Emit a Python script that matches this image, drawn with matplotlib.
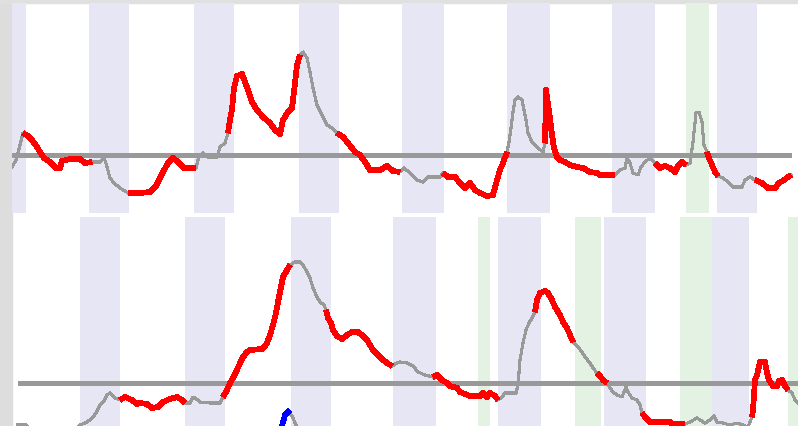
import numpy as np
import matplotlib
matplotlib.use("Agg")
import matplotlib.pyplot as plt
from matplotlib.patches import Rectangle

# ---- top panel: index deviation from baseline ----
top_t = [12, 16, 20, 23, 28, 32, 37, 40, 44, 50, 56, 60, 62, 70, 80, 85, 92, 100, 104, 107,
         110, 114, 120, 128, 140, 150, 156, 163, 168, 173, 178, 184, 196, 198, 200, 203, 208,
         217, 220, 225, 228, 230, 232, 234, 237, 242, 245, 248, 252, 257, 263, 270, 275, 280,
         283, 288, 292, 294, 297, 300, 303, 307, 310, 313, 317, 322, 327, 332, 337, 343, 348,
         355, 360, 365, 370, 380, 387, 393, 400, 404, 410, 417, 423, 428, 440, 443, 448, 455,
         460, 465, 470, 475, 480, 487, 493, 497, 500, 503, 507, 509, 511, 513, 515, 518, 522,
         524, 526, 528, 532, 538, 543, 545, 546, 549, 552, 554, 557, 560, 565, 570, 577, 583,
         590, 597, 600, 615, 620, 625, 627, 630, 633, 638, 641, 645, 650, 655, 660, 665, 670,
         675, 678, 682, 686, 690, 693, 696, 699, 702, 704, 707, 709, 712, 715, 718, 723, 728,
         733, 742, 745, 750, 755, 762, 768, 775, 779, 784, 788, 791]
top_v = [-12, -5, 10, 22, 19, 15, 8, 3, -3, -7, -13, -13, -6, -4, -4, -8, -7, -7, -2, -12,
         -23, -28, -33, -38, -38, -37, -31, -17, -8, -3, -7, -13, -13, -5, 0, 2, -2,
         -2, 8, 12, 22, 35, 46, 67, 79, 81, 73, 65, 53, 45, 38, 32, 25, 21,
         35, 43, 47, 63, 90, 100, 103, 97, 83, 67, 50, 40, 30, 27, 22, 18, 12,
         3, 0, -7, -15, -15, -11, -16, -17, -13, -18, -25, -27, -22, -22, -18, -22, -22,
         -28, -33, -28, -35, -38, -41, -40, -25, -15, -8, 3, 13, 27, 43, 55, 58, 55,
         45, 35, 22, 13, 7, 3, 12, 65, 44, 20, 7, -2, -5, -7, -10, -12, -13,
         -17, -18, -20, -20, -15, -13, -3, -8, -18, -20, -12, -7, -3, -8, -13, -11, -13,
         -17, -11, -7, -10, -8, 13, 42, 43, 33, 10, 3, -3, -10, -17, -21, -23, -27,
         -32, -32, -25, -22, -25, -28, -33, -33, -28, -25, -22, -20]
top_red = [(21, 92), (128, 197), (228, 300), (335, 403), (441, 508),
           (545, 615), (652, 688), (707, 718), (754, 791)]
top_blue_bands = [(12, 26), (89, 129), (194, 234), (299, 339), (402, 444),
                  (507, 550), (612, 655), (717, 757)]
top_green_bands = [(686, 709)]

# ---- bottom panel ----
bot_t = [18, 26, 34, 50, 65, 75, 80, 85, 90, 94, 97, 100, 104, 107, 110, 115, 120, 125, 132,
         137, 140, 147, 152, 158, 163, 170, 177, 182, 185, 190, 193, 198, 200, 210, 220, 223,
         227, 230, 233, 237, 240, 243, 247, 250, 262, 265, 267, 270, 273, 276, 278, 281, 283,
         287, 290, 295, 300, 303, 307, 310, 313, 317, 320, 324, 326, 328, 331, 333, 337, 342,
         347, 352, 358, 363, 367, 370, 373, 378, 382, 387, 392, 397, 400, 407, 413, 418, 425,
         433, 437, 442, 447, 450, 457, 460, 465, 470, 480, 483, 487, 490, 495, 498, 502, 505,
         516, 518, 520, 523, 526, 529, 532, 535, 537, 540, 545, 548, 552, 555, 560, 563, 567,
         570, 573, 578, 582, 585, 590, 593, 597, 600, 603, 607, 610, 613, 617, 622, 626, 628,
         632, 637, 640, 642, 645, 650, 670, 672, 685, 690, 697, 700, 705, 710, 714, 717, 723,
         730, 737, 743, 748, 752, 753, 755, 757, 760, 765, 767, 769, 773, 777, 779, 782, 785,
         788, 792, 795, 798]
bot_v = [-42, -42, -50, -58, -55, -47, -42, -40, -37, -33, -28, -22, -18, -12, -10, -15, -17, -14, -17,
         -21, -20, -21, -25, -24, -19, -16, -14, -17, -20, -20, -14, -17, -19, -20, -20, -14,
         -7, 0, 5, 13, 20, 26, 31, 33, 34, 37, 40, 48, 58, 70, 81, 96, 106,
         113, 118, 121, 121, 118, 111, 105, 95, 86, 81, 78, 73, 65, 60, 53, 47, 44,
         48, 51, 51, 47, 43, 38, 33, 28, 24, 20, 17, 20, 21, 20, 17, 11, 8,
         6, 8, 3, 0, -3, -5, -9, -11, -13, -13, -10, -14, -10, -13, -17, -14, -10,
         -10, -2, 23, 40, 53, 60, 65, 71, 83, 90, 92, 90, 83, 76, 68, 61, 55,
         48, 41, 36, 31, 26, 20, 15, 10, 7, 3, 0, -5, -9, -12, -14, -4, -9,
         -15, -17, -22, -30, -34, -39, -39, -41, -41, -39, -35, -37, -40, -37, -33, -39, -40,
         -42, -40, -42, -44, -34, -27, 3, 8, 21, 21, 10, 3, -3, -3, 2, 3, -3,
         -7, -10, -17, -20]
bot_red = [(117, 187), (222, 290), (326, 395), (433, 500), (535, 577),
           (597, 607), (641, 685), (752, 790)]
bot2_t = [278, 282, 285, 288, 292, 296, 300]
bot2_v = [-50, -43, -32, -29, -33, -42, -50]
bot2_blue = [(278, 288)]
bot_blue_bands = [(80, 120), (185, 225), (291, 331), (393, 436), (498, 541),
                  (604, 646), (712, 749)]
bot_green_bands = [(478, 490), (575, 601), (680, 712), (788, 800)]

LAV = "#e6e6f4"
GRN = "#e3f2e3"
GRAY = "#999999"


def masked(t, v, segs):
    t = np.asarray(t, float)
    v = np.asarray(v, float)
    m = np.zeros(len(t), bool)
    for a, b in segs:
        m |= (t >= a) & (t <= b)
    return np.where(m, v, np.nan)


def panel(ax, t, v, red, blues, greens, xline):
    for a, b in blues:
        ax.axvspan(a, b, color=LAV, lw=0, zorder=0)
    for a, b in greens:
        ax.axvspan(a, b, color=GRN, lw=0, zorder=0)
    ax.hlines(0, xline[0], xline[1], color=GRAY, lw=2.2, zorder=2, antialiased=False)
    ax.plot(t, v, color=GRAY, lw=1.5, zorder=3, antialiased=False)
    ax.plot(t, masked(t, v, red), color="red", lw=3.4, zorder=4,
            solid_capstyle="butt", antialiased=False)
    ax.set_xlim(12, 798)
    ax.axis("off")


fig = plt.figure(figsize=(7.98, 4.26), dpi=100, facecolor="white")
W, H = 798, 426

# grey page edges
fig.patches.append(Rectangle((0, 0), 12 / W, 1, transform=fig.transFigure,
                             color="#dddddd", zorder=-1))
fig.patches.append(Rectangle((0, 1 - 3 / H), 1, 3 / H, transform=fig.transFigure,
                             color="#e0e0e0", zorder=-1))

ax1 = fig.add_axes([12 / W, 213 / H, 786 / W, 210 / H])
panel(ax1, top_t, top_v, top_red, top_blue_bands, top_green_bands, (12, 791))
ax1.set_ylim(-58, 152)

ax2 = fig.add_axes([12 / W, 0, 786 / W, 209 / H])
panel(ax2, bot_t, bot_v, bot_red, bot_blue_bands, bot_green_bands, (18, 798))
ax2.plot(bot2_t, bot2_v, color=GRAY, lw=1.5, zorder=3, antialiased=False)
ax2.plot(bot2_t, masked(bot2_t, bot2_v, bot2_blue), color="blue", lw=3.4, zorder=4,
         antialiased=False)
ax2.set_ylim(-43, 166)

fig.savefig("out.png", dpi=100, facecolor="white")
